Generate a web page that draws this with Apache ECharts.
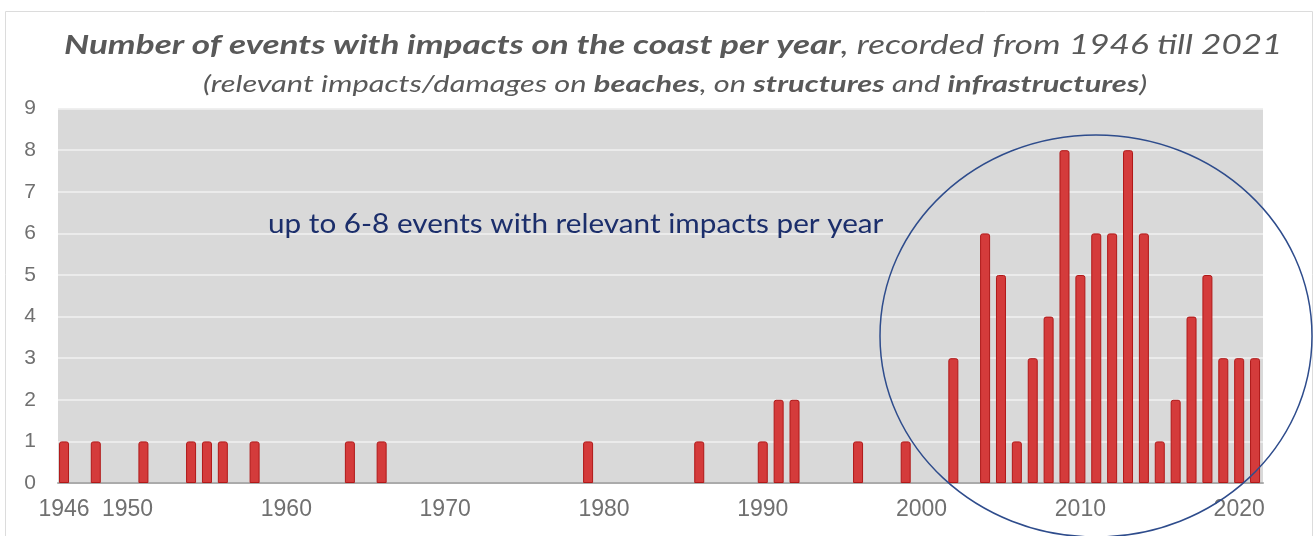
<!DOCTYPE html>
<html style="height: 100%">
<head>
  <meta charset="utf-8">
</head>
<body style="height: 100%; margin: 0; background: #fff">
<div id="chartContainer" style="width: 1315px; height: 536px"></div>
<script src="https://cdn.jsdelivr.net/npm/echarts@6/dist/echarts.min.js"></script>
<script>
  // years with at least one recorded event, and how many events per year
  var years = [1946, 1948, 1951, 1954, 1955, 1956, 1958, 1964, 1966, 1979, 1986,
    1990, 1991, 1992, 1996, 1999, 2002, 2004, 2005, 2006, 2007, 2008, 2009,
    2010, 2011, 2012, 2013, 2014, 2015, 2016, 2017, 2018, 2019, 2020, 2021];
  var events = [1, 1, 1, 1, 1, 1, 1, 1, 1, 1, 1,
    1, 2, 2, 1, 1, 3, 6, 5, 1, 3, 4, 8,
    5, 6, 6, 8, 6, 1, 2, 4, 5, 3, 3, 3];
  var yearTicks = [1946, 1950, 1960, 1970, 1980, 1990, 2000, 2010, 2020];

  var titleText = 'Number of events with impacts on the coast per year';
  var titleRest = ', recorded from 1946 till 2021';
  var note = 'up to 6-8 events with relevant impacts per year';

  var myChart = echarts.init(document.getElementById('chartContainer'));

  var data = years.map(function (y, i) { return [y, events[i]]; });

  // graphic text uses zrender styles, so colour goes in "fill"
  var titleFont = {fontFamily: 'Lato', fontStyle: 'italic', fill: '#595959'};
  function rich(size) {
    return {
      b: Object.assign({fontSize: size, fontWeight: 'bold'}, titleFont),
      n: Object.assign({fontSize: size, fontWeight: 'normal'}, titleFont)
    };
  }

  var option = {
    backgroundColor: '#fff',
    animation: false,
    grid: {
      left: 58,
      right: 52,
      top: 108.6,
      bottom: 53,
      show: true,
      backgroundColor: '#d9d9d9',
      borderWidth: 0
    },
    xAxis: {
      type: 'value',
      min: 1945.62,
      max: 2021.5,
      axisLine: {show: true, lineStyle: {color: '#ababab', width: 2}},
      axisTick: {show: false},
      splitLine: {show: false},
      axisLabel: {
        customValues: yearTicks,
        margin: 15,
        color: '#707070',
        fontFamily: 'Liberation Sans',
        fontSize: 23,
        formatter: function (v) { return String(v); }
      }
    },
    yAxis: {
      type: 'value',
      min: 0,
      max: 9,
      interval: 1,
      axisLine: {show: false},
      axisTick: {show: false},
      splitLine: {lineStyle: {color: '#f0f0f0', width: 1.5}},
      axisLabel: {
        margin: 22,
        color: '#707070',
        fontFamily: 'Liberation Sans',
        fontSize: 21
      }
    },
    series: [{
      type: 'bar',
      barWidth: 10,
      data: data,
      itemStyle: {
        color: '#d43b3b',
        borderColor: '#b01818',
        borderWidth: 1,
        borderRadius: [2, 2, 0, 0]
      }
    }],
    graphic: [{
      type: 'rect',
      shape: {x: 5.5, y: 11.5, width: 1307, height: 540},
      style: {fill: 'none', stroke: '#dcdcdc', lineWidth: 1},
      silent: true
    }, {
      // title, stretched a bit wider like the original
      type: 'text',
      x: 64,
      y: 45,
      scaleX: 1.3,
      style: {
        text: '{b|' + titleText + '}{n|' + titleRest + '}',
        rich: rich(27),
        verticalAlign: 'middle'
      }
    }, {
      type: 'text',
      x: 203,
      y: 85,
      scaleX: 1.37,
      style: {
        text: '{n|(relevant impacts/damages on }{b|beaches}{n|, on }{b|structures}{n| and }{b|infrastructures}{n|)}',
        rich: rich(22.5),
        verticalAlign: 'middle'
      }
    }, {
      type: 'text',
      x: 268,
      y: 224,
      scaleX: 1.1,
      style: {
        text: note,
        fill: '#1b2e6b',
        fontFamily: 'Lato',
        fontSize: 27,
        verticalAlign: 'middle'
      },
      z: 100
    }, {
      type: 'ellipse',
      shape: {cx: 1096, cy: 336, rx: 216, ry: 201},
      style: {fill: 'none', stroke: '#2e4c8c', lineWidth: 1.5},
      z: 100,
      silent: true
    }]
  };

  myChart.setOption(option);
</script>
</body>
</html>
